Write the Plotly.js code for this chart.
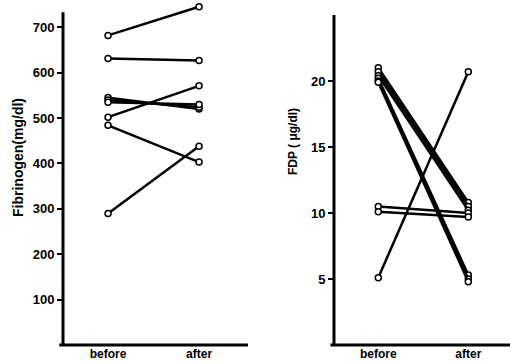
<!DOCTYPE html>
<html>
<head>
<meta charset="utf-8">
<script src="https://cdn.plot.ly/plotly-3.0.1.min.js"></script>
<style>html,body{margin:0;padding:0;background:#fff;}#chart{width:511px;height:364px;}</style>
</head>
<body>
<div id="chart"></div>
<script>
// Categories
const periods = ['before', 'after'];

// Fibrinogen (mg/dl), one pair per patient: [before, after]
const fibBefore = [682, 631, 502, 545, 540, 535, 484, 290];
const fibAfter  = [745, 627, 571, 520, 524, 530, 403, 438];

// FDP (µg/dl), one pair per patient: [before, after]
const fdpBefore = [21.0, 20.7, 20.4, 20.2, 20.0, 19.9, 10.5, 10.1, 5.1];
const fdpAfter  = [10.8, 10.5, 10.2, 5.3, 5.0, 4.8, 10.0, 9.7, 20.7];

// Tick labels
const fibTicks = [100, 200, 300, 400, 500, 600, 700];
const fdpTicks = [5, 10, 15, 20];

const FONT = 'Liberation Sans Narrow, Arial Narrow, Liberation Sans, Arial, sans-serif';

function pairTraces(before, after, xa, ya) {
  return before.map((b, i) => ({
    x: periods, y: [b, after[i]], xaxis: xa, yaxis: ya,
    type: 'scatter', mode: 'lines+markers', showlegend: false, cliponaxis: false,
    line: {color: '#000', width: 2.5},
    marker: {symbol: 'circle', size: 6, color: '#fff', line: {color: '#000', width: 1.5}},
    hoverinfo: 'skip'
  }));
}

const data = [].concat(
  pairTraces(fibBefore, fibAfter, 'x', 'y'),
  pairTraces(fdpBefore, fdpAfter, 'x2', 'y2')
);

const bold = v => '<b>' + v + '</b>';

const xCommon = {
  type: 'category', showgrid: false, zeroline: false,
  showline: false, ticks: '',
  tickvals: periods, ticktext: periods.map(bold),
  tickfont: {family: FONT, size: 12, color: '#000'}
};
const yCommon = {
  showgrid: false, zeroline: false, showline: false,
  ticks: 'outside', ticklen: 5, tickwidth: 2, tickcolor: '#000',
  tickfont: {family: FONT, size: 13, color: '#000'}
};

const layout = {
  width: 511, height: 364,
  margin: {l: 0, r: 0, t: 0, b: 0},
  paper_bgcolor: '#fff', plot_bgcolor: '#fff',
  xaxis: Object.assign({}, xCommon, {domain: [0.1233, 0.4853], range: [-0.495, 1.538], anchor: 'y'}),
  yaxis: Object.assign({}, yCommon, {domain: [0.052, 1.0], range: [0, 760], tickvals: fibTicks, ticktext: fibTicks.map(bold), anchor: 'x'}),
  xaxis2: Object.assign({}, xCommon, {domain: [0.6536, 0.998], range: [-0.492, 1.463], anchor: 'y2'}),
  yaxis2: Object.assign({}, yCommon, {domain: [0.052, 0.959], range: [0, 25], tickvals: fdpTicks, ticktext: fdpTicks.map(bold), anchor: 'x2'}),
  shapes: [
    {type: 'line', xref: 'x domain', yref: 'y domain', x0: -0.02, x1: 1, y0: 0, y1: 0, line: {color: '#000', width: 3}},
    {type: 'line', xref: 'x domain', yref: 'y', x0: 0, x1: 0, y0: 0, y1: 733, line: {color: '#000', width: 3}},
    {type: 'line', xref: 'x2 domain', yref: 'y2 domain', x0: -0.02, x1: 1, y0: 0, y1: 0, line: {color: '#000', width: 3}},
    {type: 'line', xref: 'x2 domain', yref: 'y2 domain', x0: 0, x1: 0, y0: 0, y1: 1, line: {color: '#000', width: 3}}
  ],
  annotations: [
    {text: '<b>Fibrinogen(mg/dl)</b>', xref: 'paper', yref: 'paper', x: 18/511, y: 1 - 158/364,
     textangle: -90, showarrow: false, xanchor: 'center', yanchor: 'middle',
     font: {family: FONT, size: 14, color: '#000'}},
    {text: '<b>FDP ( μg/dl)</b>', xref: 'paper', yref: 'paper', x: 293/511, y: 1 - 142/364,
     textangle: -90, showarrow: false, xanchor: 'center', yanchor: 'middle',
     font: {family: FONT, size: 12, color: '#000'}}
  ]
};

Plotly.newPlot('chart', data, layout, {staticPlot: true, displayModeBar: false});
</script>
</body>
</html>
